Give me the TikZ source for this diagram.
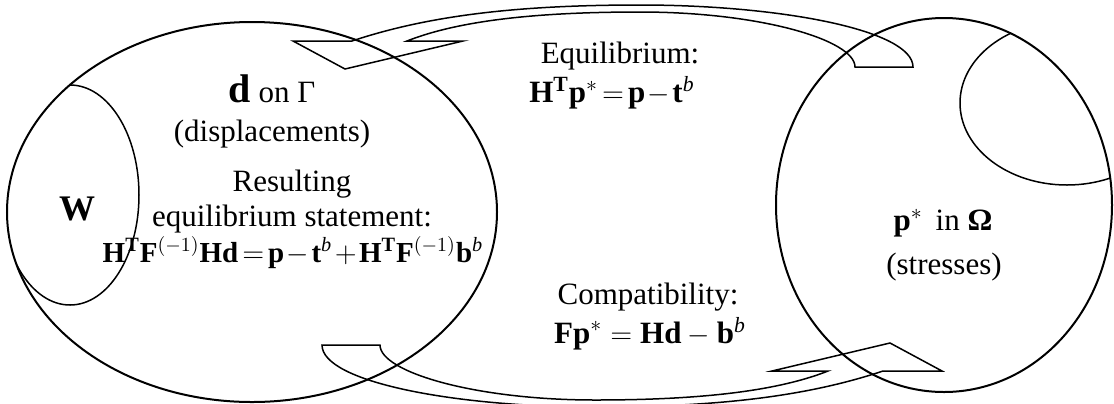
\documentclass[tikz,border=0pt]{standalone}
\usepackage{fontspec}
\setmainfont{Liberation Serif}
\usetikzlibrary{positioning}

\tikzset{
  rim/.style={line width=1pt},
  part/.style={line width=0.75pt},
  band/.style={line width=0.75pt, line join=miter},
  lbl/.style={font=\fontsize{15.5}{18}\selectfont, inner sep=0pt, anchor=base},
  tight/.style={execute at begin node={\thickmuskip=2.5mu\medmuskip=1.5mu}},
}
% curved block arrow, top one (bottom one is the same turned round)
\newcommand{\bentband}{(407,41) -- (463,41) -- (345,69) -- (293,41) -- (352,41)
  .. controls (430,15) and (520,5) .. (640,5)
  .. controls (780,5) and (913,30) .. (913,67) -- (855,67)
  .. controls (855,40) and (760,12) .. (640,12)
  .. controls (540,12) and (460,20) .. (407,41) -- cycle}

\begin{document}
\begin{tikzpicture}[x=0.5pt, y=-0.5pt]
  \useasboundingbox (0,0) rectangle (1114,403);

  % the two regions
  \draw[rim] (252,212) ellipse [x radius=245, y radius=190];
  \draw[rim] (944,205) ellipse [x radius=168, y radius=187];
  \begin{scope}
    \clip (252,212) ellipse [x radius=245, y radius=190];
    \draw[part] (70,195) ellipse [x radius=69, y radius=110];
  \end{scope}
  \begin{scope}
    \clip (944,205) ellipse [x radius=168, y radius=187];
    \draw[part] (1067,103) ellipse [x radius=107, y radius=82];
  \end{scope}

  % arrows
  \draw[band] \bentband;
  \begin{scope}[rotate around={180:(617.5,206)}]
    \draw[band] \bentband;
  \end{scope}

  % left region
  \node[lbl] (dgamma) at (272,102) {{\fontsize{20}{20}\selectfont$\mathbf{d}$} on Γ};
  \node[lbl] (disp) at (272,141) {(displacements)};
  \node[lbl] (res1) at (292,191) {Resulting};
  \node[lbl] (res2) at (292,226) {equilibrium statement:};
  \node[lbl, tight, font=\fontsize{14.5}{18}\selectfont] (res3) at (293,262)
    {$\mathbf{H}^{\mathbf{T}}\mathbf{F}^{(-1)}\mathbf{Hd}=\mathbf{p}-\mathbf{t}^{\mathit{b}}+\mathbf{H}^{\mathbf{T}}\mathbf{F}^{(-1)}\mathbf{b}^{\mathit{b}}$};
  \node[lbl, font=\fontsize{18}{18}\selectfont] (wpart) at (77,220) {$\mathbf{W}$};

  % relations
  \node[lbl] (eqt) at (620,63) {Equilibrium:};
  \node[lbl, tight] (eqf) at (612,102) {$\mathbf{H}^{\mathbf{T}}\mathbf{p}^{*}=\mathbf{p}-\mathbf{t}^{\mathit{b}}$};
  \node[lbl] (cpt) at (648,304) {Compatibility:};
  \node[lbl] (cpf) at (650,343) {$\mathbf{Fp}^{*}=\mathbf{Hd}-\mathbf{b}^{\mathit{b}}$};

  % right region
  \node[lbl] (pin) at (943,230) {$\mathbf{p}^{*}$\, in \textbf{Ω}};
  \node[lbl] (str) at (944,274) {(stresses)};
\end{tikzpicture}
\end{document}
